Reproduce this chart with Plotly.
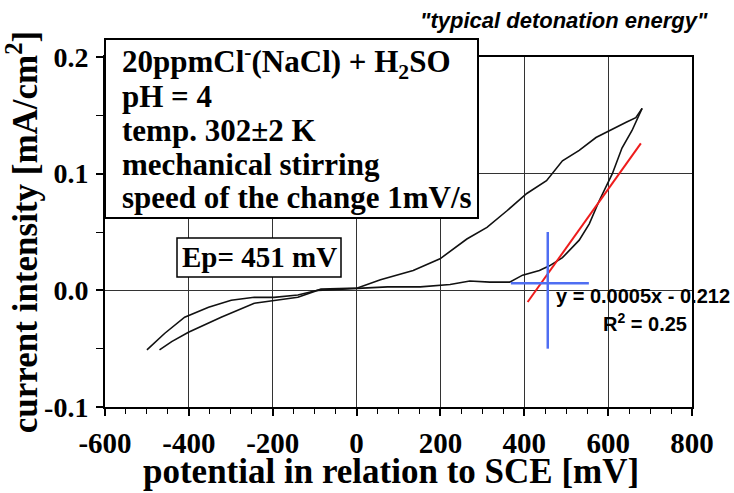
import plotly.graph_objects as go

# anodic scan (mV, mA/cm2)
fwd_potential = [-500, -458, -410, -353, -299, -244, -197, -140, -93, -45, 2, 74, 152,
                 223, 270, 318, 365, 396, 436, 460, 491, 531, 555, 579, 610, 633, 657, 681]
fwd_current = [-0.051, -0.037, -0.023, -0.0145, -0.0085, -0.006, -0.006, -0.004, 0.000, 0.001,
               0.002, 0.003, 0.003, 0.005, 0.008, 0.007, 0.007, 0.013, 0.017, 0.021, 0.028,
               0.043, 0.057, 0.077, 0.100, 0.122, 0.137, 0.156]

# reverse scan
rev_potential = [681, 666, 643, 610, 571, 531, 491, 453, 406, 358, 311, 263, 199, 135, 57, 2,
                 -85, -140, -197, -244, -323, -363, -401, -441, -470]
rev_current = [0.156, 0.148, 0.144, 0.138, 0.131, 0.120, 0.111, 0.094, 0.083, 0.068, 0.054,
               0.044, 0.027, 0.017, 0.009, 0.002, 0.001, -0.006, -0.0085, -0.011, -0.023,
               -0.030, -0.036, -0.044, -0.051]

# linear fit segment
fit_potential = [408, 678]
fit_current = [-0.010, 0.126]

# Ep marker cross
ep_v_x = [456, 456]
ep_v_y = [-0.05, 0.05]
ep_h_x = [368, 554]
ep_h_y = [0.006, 0.006]

x_ticks = [-600, -400, -200, 0, 200, 400, 600, 800]
x_labels = ['-600', '-400', '-200', '0', '200', '400', '600', '800']
y_ticks = [-0.1, 0.0, 0.1, 0.2]
y_labels = ['-0.1', '0.0', '0.1', '0.2']

box_lines = [
    '20ppmCl<sup>-</sup>(NaCl) + H<sub>2</sub>SO',
    'pH = 4',
    'temp. 302\u00b12 K',
    'mechanical stirring',
    'speed of the change 1mV/s',
]

SERIF = 'Liberation Serif'
SANS = 'Liberation Sans'

# plot area in pixels: x 105..692, y 57..407
def px(x):
    return (x - 105) / 587.0

def py(y):
    return (407 - y) / 350.0

fig = go.Figure()

fig.add_trace(go.Scatter(x=fwd_potential, y=fwd_current, mode='lines',
                         line=dict(color='#111111', width=1.6), showlegend=False))
fig.add_trace(go.Scatter(x=rev_potential, y=rev_current, mode='lines',
                         line=dict(color='#111111', width=1.6), showlegend=False))
fig.add_trace(go.Scatter(x=fit_potential, y=fit_current, mode='lines',
                         line=dict(color='#ee1c1c', width=2), showlegend=False))
fig.add_trace(go.Scatter(x=ep_v_x, y=ep_v_y, mode='lines',
                         line=dict(color='#4f6ef2', width=2.5), showlegend=False))
fig.add_trace(go.Scatter(x=ep_h_x, y=ep_h_y, mode='lines',
                         line=dict(color='#4f6ef2', width=2.5), showlegend=False))

# condition box and Ep box
fig.add_shape(type='rect', xref='paper', yref='paper',
              x0=px(105), x1=px(478), y0=py(218), y1=py(39),
              fillcolor='white', line=dict(color='black', width=2), layer='above')
fig.add_shape(type='rect', xref='paper', yref='paper',
              x0=px(177), x1=px(341), y0=py(277), y1=py(238),
              fillcolor='white', line=dict(color='black', width=1.5), layer='above')

annotations = []
for i, line in enumerate(box_lines):
    annotations.append(dict(x=px(120), y=py(62 + 34 * i), xref='paper', yref='paper',
                            xanchor='left', yanchor='middle', showarrow=False, text=line,
                            font=dict(family=SERIF, size=31, color='black', weight='bold')))
annotations.append(dict(x=px(259), y=py(257), xref='paper', yref='paper',
                        xanchor='center', yanchor='middle', showarrow=False,
                        text='Ep= 451 mV',
                        font=dict(family=SERIF, size=29, color='black', weight='bold')))
annotations.append(dict(x=px(564), y=py(20), xref='paper', yref='paper',
                        xanchor='center', yanchor='middle', showarrow=False,
                        text='"typical detonation energy"',
                        font=dict(family=SANS, size=22, color='black', weight='bold',
                                  style='italic')))
annotations.append(dict(x=px(554), y=py(296), xref='paper', yref='paper',
                        xanchor='left', yanchor='middle', showarrow=False,
                        text='y = 0.0005x - 0.212',
                        font=dict(family=SANS, size=20, color='black', weight='bold')))
annotations.append(dict(x=px(689), y=py(322), xref='paper', yref='paper',
                        xanchor='right', yanchor='middle', showarrow=False,
                        text='R<sup>2</sup> = 0.25',
                        font=dict(family=SANS, size=20, color='black', weight='bold')))
# x axis title
annotations.append(dict(x=px(391), y=py(493), xref='paper', yref='paper',
                        xanchor='center', yanchor='bottom', showarrow=False,
                        text='potential in relation to SCE [mV]',
                        font=dict(family=SERIF, size=35, color='black', weight='bold')))

fig.update_layout(
    width=734, height=493,
    margin=dict(l=105, r=42, t=57, b=86, autoexpand=False),
    plot_bgcolor='white', paper_bgcolor='white',
    font=dict(family=SERIF, color='black'),
    annotations=annotations,
    showlegend=False,
)

fig.update_xaxes(
    range=[-600, 800], tickmode='array', tickvals=x_ticks, ticktext=x_labels,
    automargin=False,
    showline=True, linecolor='black', linewidth=2, mirror=True,
    showgrid=True, gridcolor='#333333', gridwidth=1.2, zeroline=False,
    ticks='outside', ticklen=7, tickwidth=1.5, tickcolor='black',
    minor=dict(tickmode='linear', tick0=-600, dtick=50, ticks='outside', ticklen=5,
               tickwidth=1.2, tickcolor='black', showgrid=False),
    tickfont=dict(family=SERIF, size=29, color='black', weight='bold'),
    ticklabelstandoff=2,
)
fig.update_yaxes(
    range=[-0.1, 0.2], tickmode='array', tickvals=y_ticks, ticktext=y_labels,
    automargin=False,
    showline=True, linecolor='black', linewidth=2, mirror=True,
    showgrid=True, gridcolor='#333333', gridwidth=1.2, zeroline=False,
    ticks='outside', ticklen=7, tickwidth=1.5, tickcolor='black',
    minor=dict(tickmode='linear', tick0=-0.1, dtick=0.05, ticks='outside', ticklen=7,
               tickwidth=1.2, tickcolor='black', showgrid=False),
    tickfont=dict(family=SERIF, size=28, color='black', weight='bold'),
    ticklabelstandoff=2,
    title=dict(text='current intensity [mA/cm<sup>2</sup>]', standoff=4,
               font=dict(family=SERIF, size=35, color='black', weight='bold')),
)

fig.write_html("out.html", config={'displayModeBar': False},
               post_script="document.body.style.margin='0';")
